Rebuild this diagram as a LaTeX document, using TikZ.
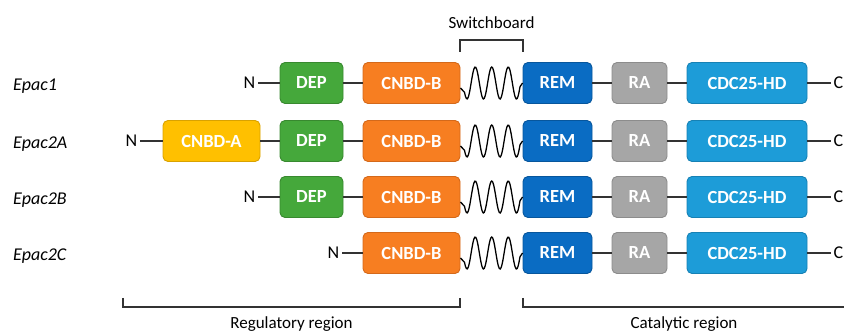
\documentclass[tikz,border=0pt]{standalone}
\usepackage{fontspec}
\setmainfont{Carlito}
\definecolor{depF}{HTML}{45A83B}
\definecolor{depD}{HTML}{38892F}
\definecolor{caF}{HTML}{FFC000}
\definecolor{caD}{HTML}{D9A200}
\definecolor{cbF}{HTML}{F77E21}
\definecolor{cbD}{HTML}{D4691A}
\definecolor{remF}{HTML}{0A6CC3}
\definecolor{remD}{HTML}{07569C}
\definecolor{raF}{HTML}{A6A6A6}
\definecolor{raD}{HTML}{8C8C8C}
\definecolor{cdcF}{HTML}{1D9CD8}
\definecolor{cdcD}{HTML}{1681B4}
\definecolor{linec}{HTML}{333333}
\tikzset{
  dom/.style={rectangle, rounded corners=5pt, minimum height=41pt, inner sep=0pt,
    text=white, font=\fontsize{18.5}{20}\selectfont\bfseries, line width=0.9pt},
  depbox/.style={dom, fill=depF, draw=depD, minimum width=63pt},
  cabox/.style={dom, fill=caF, draw=caD, minimum width=97pt},
  cbbox/.style={dom, fill=cbF, draw=cbD, minimum width=97pt},
  rembox/.style={dom, fill=remF, draw=remD, minimum width=69pt},
  rabox/.style={dom, fill=raF, draw=raD, minimum width=55pt},
  cdcbox/.style={dom, fill=cdcF, draw=cdcD, minimum width=120pt},
  term/.style={inner sep=2.5pt, font=\fontsize{18}{20}\selectfont, text=black},
  lbl/.style={inner sep=0pt, font=\fontsize{18}{20}\selectfont\itshape, text=black},
  captxt/.style={inner sep=0pt, font=\fontsize{17}{19}\selectfont, text=black},
  link/.style={draw=linec, line width=1.4pt},
  spring/.style={draw=black, line width=1.3pt},
  brack/.style={draw=linec, line width=1.3pt},
}
\begin{document}
\begin{tikzpicture}[x=1pt,y=-1pt]
\useasboundingbox (0,0) rectangle (844,331);
\foreach \yc/\i/\nm in {83/1/Epac1, 141/2/Epac2A, 197/3/Epac2B, 253/4/Epac2C}{
  \node[lbl, anchor=base west] (lab\i) at (13,{\yc+7.5}) {\nm};
  \node[cbbox] (cb\i) at (411.5,\yc) {CNBD-B};
  \node[rembox] (rem\i) at (557.5,\yc) {REM};
  \node[rabox] (ra\i) at (639.5,\yc) {RA};
  \node[cdcbox] (cdc\i) at (747,\yc) {CDC25-HD};
  \node[term, anchor=west] (c\i) at (831,\yc) {C};
  \draw[link] (rem\i) -- (ra\i);
  \draw[link] (ra\i) -- (cdc\i);
  \draw[link] (cdc\i) -- (c\i);
  \draw[spring] ([yshift=-5pt]cb\i.east) -- plot[domain=464.5:520, samples=60, smooth] (\x,{\yc+16*cos(21.818*(\x-467))}) -- (rem\i.west);
}
% row 1
\node[term, anchor=east] (n1) at (258,83) {N};
\node[depbox] (dep1) at (311.5,83) {DEP};
\draw[link] (n1) -- (dep1);
\draw[link] (dep1) -- (cb1);
% row 2
\node[term, anchor=east] (n2) at (140,141) {N};
\node[cabox] (ca2) at (211.5,141) {CNBD-A};
\node[depbox] (dep2) at (311.5,141) {DEP};
\draw[link] (n2) -- (ca2);
\draw[link] (ca2) -- (dep2);
\draw[link] (dep2) -- (cb2);
% row 3
\node[term, anchor=east] (n3) at (258,197) {N};
\node[depbox] (dep3) at (311.5,197) {DEP};
\draw[link] (n3) -- (dep3);
\draw[link] (dep3) -- (cb3);
% row 4
\node[term, anchor=east] (n4) at (342,253) {N};
\draw[link] (n4) -- (cb4);
% brackets
\draw[brack] (460,52) -- (460,40) -- (523,40) -- (523,52);
\node[captxt, anchor=base] (sw) at (491.5,29) {Switchboard};
\draw[brack] (123,298) -- (123,307) -- (460,307) -- (460,298);
\node[captxt, anchor=base] (reg) at (291.5,328) {Regulatory region};
\draw[brack] (523,298) -- (523,307) -- (850,307);
\node[captxt, anchor=base] (cat) at (684,328) {Catalytic region};
\end{tikzpicture}
\end{document}
